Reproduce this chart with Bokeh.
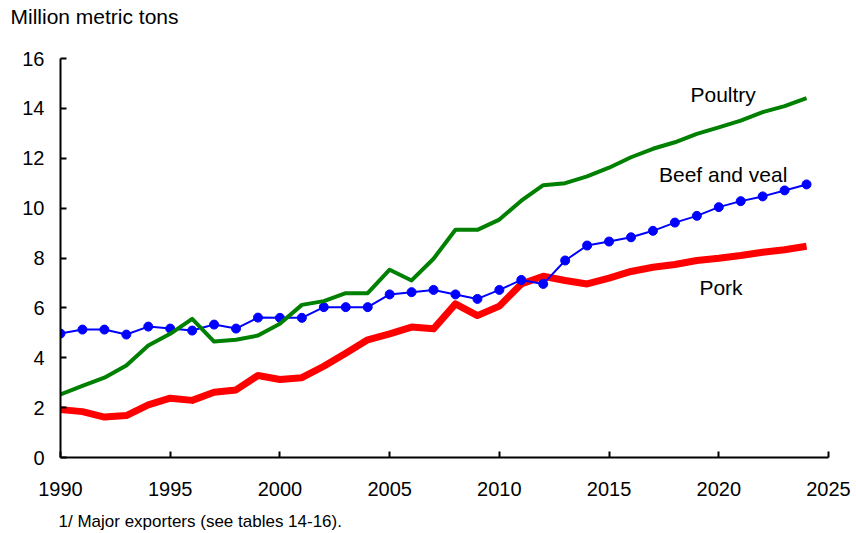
from bokeh.plotting import figure
from bokeh.models import Range1d, FixedTicker, Label, Title
from bokeh.embed import file_html
from bokeh.resources import INLINE

years = list(range(1990, 2025))
poultry = [2.53, 2.87, 3.20, 3.69, 4.49, 4.96, 5.56, 4.65, 4.72, 4.89,
           5.36, 6.12, 6.27, 6.59, 6.59, 7.53, 7.10, 7.97, 9.13, 9.13,
           9.54, 10.30, 10.92, 11.00, 11.27, 11.62, 12.04, 12.38, 12.64, 12.98,
           13.24, 13.51, 13.85, 14.09, 14.41]
beef = [4.97, 5.13, 5.13, 4.93, 5.25, 5.17, 5.09, 5.33, 5.17, 5.61,
        5.60, 5.60, 6.03, 6.03, 6.03, 6.54, 6.63, 6.72, 6.54, 6.36,
        6.72, 7.12, 6.96, 7.90, 8.50, 8.66, 8.83, 9.09, 9.42, 9.69,
        10.04, 10.28, 10.47, 10.71, 10.95]
pork = [1.92, 1.84, 1.62, 1.68, 2.11, 2.38, 2.29, 2.62, 2.71, 3.29,
        3.13, 3.20, 3.66, 4.18, 4.72, 4.96, 5.23, 5.16, 6.16, 5.69,
        6.07, 6.96, 7.27, 7.10, 6.96, 7.19, 7.46, 7.63, 7.74, 7.90,
        7.99, 8.10, 8.23, 8.33, 8.47]
x_ticks = [1990, 1995, 2000, 2005, 2010, 2015, 2020, 2025]
y_ticks = [0, 2, 4, 6, 8, 10, 12, 14, 16]
series_labels = ["Poultry", "Beef and veal", "Pork"]
label_x = [2020.2, 2020.2, 2020.1]
label_y = [14.55, 11.35, 6.82]

FONT = "Liberation Sans"

p = figure(width=856, height=533, output_backend="svg", toolbar_location=None,
           x_range=Range1d(1990, 2025), y_range=Range1d(0, 16),
           min_border_left=60, min_border_right=28, min_border_top=58,
           min_border_bottom=76)
p.outline_line_color = None
p.xgrid.visible = False
p.ygrid.visible = False
p.background_fill_color = "white"
p.border_fill_color = "white"

for ax in (p.xaxis[0], p.yaxis[0]):
    ax.axis_line_width = 2
    ax.axis_line_color = "black"
    ax.major_tick_line_width = 2
    ax.major_tick_line_color = "black"
    ax.major_tick_in = 6
    ax.major_tick_out = 0
    ax.minor_tick_line_color = None
    ax.major_label_text_font = FONT
    ax.major_label_text_font_size = "20px"
    ax.major_label_text_color = "black"

p.xaxis[0].ticker = FixedTicker(ticks=x_ticks)
p.yaxis[0].ticker = FixedTicker(ticks=y_ticks)
p.xaxis[0].major_label_standoff = 24
p.yaxis[0].major_label_standoff = 16

p.line(years, pork, line_color="#FF0000", line_width=7, line_join="round")
p.line(years, beef, line_color="#0000FF", line_width=2)
p.scatter(years, beef, size=9, fill_color="#0000FF", line_color="#0000FF")
p.line(years, poultry, line_color="#008000", line_width=4, line_join="round")

for t, lx, ly in zip(series_labels, label_x, label_y):
    p.add_layout(Label(x=lx, y=ly, text=t, text_font=FONT, text_font_size="21px",
                       text_align="center", text_baseline="middle", text_color="black"))

# spacer between frame and the units title
p.add_layout(Title(text=" ", text_font_size="1px", standoff=28), "above")
p.add_layout(Title(text="Million metric tons", align="left", offset=-50,
                   text_font=FONT, text_font_size="21px", text_font_style="normal",
                   text_color="black", standoff=0), "above")
# spacer between x axis and footnote
p.add_layout(Title(text=" ", text_font_size="1px", standoff=6), "below")
p.add_layout(Title(text="1/ Major exporters (see tables 14-16).", align="left", offset=-2,
                   text_font=FONT, text_font_size="17px", text_font_style="normal",
                   text_color="black", standoff=4), "below")

open("out.html", "w").write(file_html(p, INLINE))
